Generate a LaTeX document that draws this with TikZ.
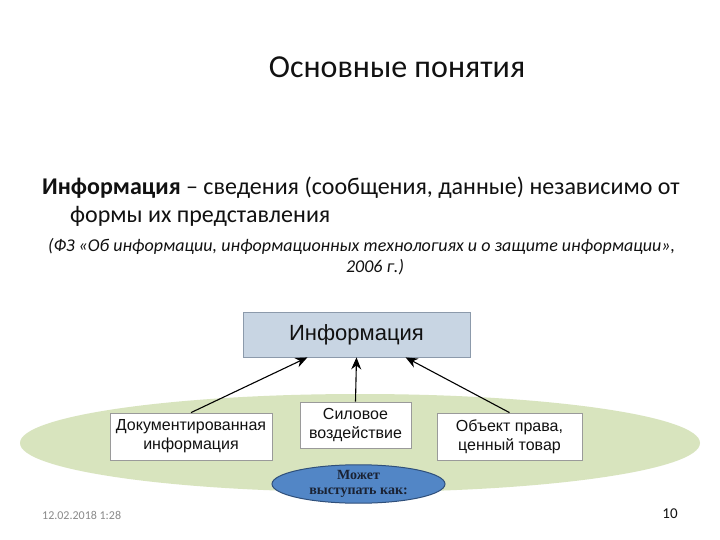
\documentclass[tikz,border=0pt]{standalone}
\usepackage{fontspec}
\setmainfont{Carlito}
\newfontfamily\arialfont{Liberation Sans}
\newfontfamily\timesfont{Liberation Serif}
\usetikzlibrary{arrows.meta,shapes.geometric}
\definecolor{bg}{HTML}{FFFFFF}
\definecolor{ink}{HTML}{111111}
\definecolor{infofill}{HTML}{C8D5E3}
\definecolor{infoedge}{HTML}{8C9AAB}
\definecolor{field}{HTML}{D8E4BE}
\definecolor{boxedge}{HTML}{9A9A9A}
\definecolor{oval}{HTML}{5286C6}
\definecolor{ovaledge}{HTML}{2F4F7A}
\definecolor{ovalink}{HTML}{1A2233}
\definecolor{foot}{HTML}{8A8A8A}

\begin{document}
\begin{tikzpicture}[x=1pt,y=-1pt,
  box/.style={draw=boxedge,fill=white,line width=0.8pt,align=center,font=\arialfont\fontsize{16}{19}\selectfont,text=ink},
  flow/.style={-{Stealth[length=12pt,width=10pt]},line width=1.1pt,black},
  txt/.style={anchor=west,inner sep=0pt,text=ink}]
  \useasboundingbox[fill=bg] (0,0) rectangle (720,540);

  % ===== heading and definition =====
  \node[font=\fontsize{32}{36}\selectfont,text=ink] (title) at (397,67) {Основные понятия};
  \node[txt,font=\fontsize{24}{28}\selectfont] (def1) at (42,188) {\textbf{Информация} – сведения (сообщения, данные) независимо от};
  \node[txt,font=\fontsize{24}{28}\selectfont] (def2) at (70,216) {формы их представления};
  \node[txt,font=\itshape\fontsize{18}{21}\selectfont] (law1) at (48,246) {(ФЗ «Об информации, информационных технологиях и о защите информации»,};
  \node[font=\itshape\fontsize{18}{21}\selectfont,text=ink] (law2) at (375,267) {2006 г.)};

  % ===== background field =====
  \fill[field] (360,443) ellipse (340 and 49);

  % ===== boxes =====
  \node[box,draw=infoedge,fill=infofill,minimum width=227pt,minimum height=45pt,font=\arialfont\fontsize{22}{26}\selectfont] (info) at (356.5,334.5) {Информация};
  \node[box,minimum width=162pt,minimum height=47pt] (doc) at (191,436.5) {Документированная\\информация};
  \node[box,minimum width=111pt,minimum height=46pt] (force) at (355.5,425) {Силовое\\воздействие};
  \node[box,minimum width=145pt,minimum height=47pt] (object) at (509.5,436.5) {Объект права,\\ценный товар};

  \draw[flow] (doc.north) -- (info.205);
  \draw[flow] (force.north) -- (info.south);
  \draw[flow] (object.north) -- (info.335);

  % ===== oval =====
  \node[ellipse,draw=ovaledge,fill=oval,line width=1pt,minimum width=173pt,minimum height=38pt,inner sep=0pt,align=center,
    font=\timesfont\bfseries\fontsize{14}{15}\selectfont,text=ovalink] (can) at (358.5,484) {Может\\выступать как:};

  % ===== footer =====
  \node[txt,font=\fontsize{12}{14}\selectfont,text=foot] (date) at (42,515) {12.02.2018 1:28};
  \node[font=\fontsize{15}{17}\selectfont,text=ink] (page) at (670,514) {10};
\end{tikzpicture}
\end{document}
